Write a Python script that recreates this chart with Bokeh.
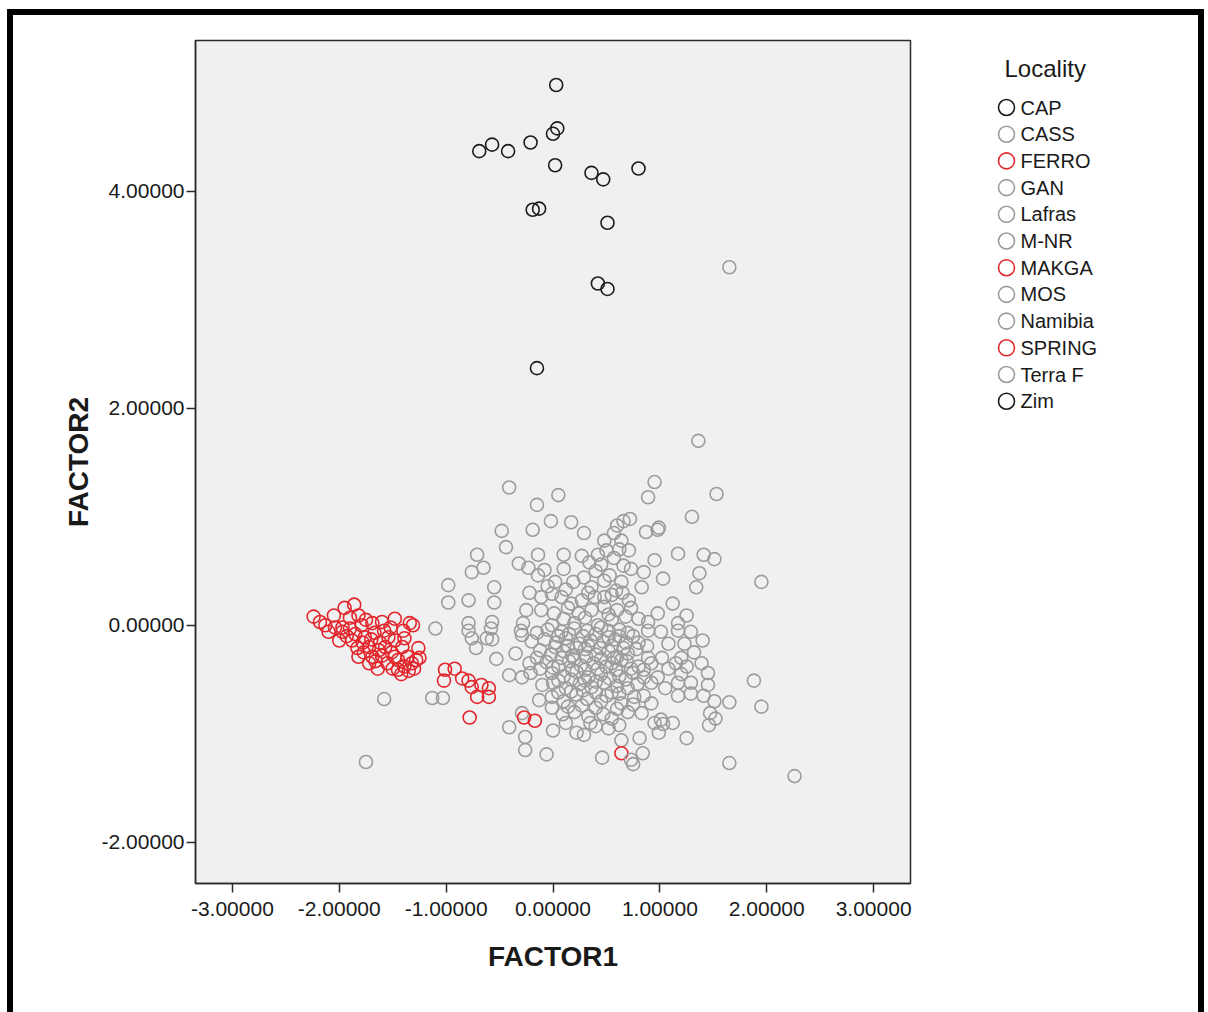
from bokeh.plotting import figure
from bokeh.layouts import row
from bokeh.models import FixedTicker, NumeralTickFormatter, InlineStyleSheet, ColumnDataSource
from bokeh.core.properties import value
from bokeh.embed import file_html
from bokeh.resources import INLINE

# ---------------- data (FACTOR1, FACTOR2) ----------------
localities = ["CAP", "CASS", "FERRO", "GAN", "Lafras", "M-NR", "MAKGA",
              "MOS", "Namibia", "SPRING", "Terra F", "Zim"]

cap_x = [0.03, 0.04, 0.00, -0.57, -0.69, -0.42, -0.21, 0.02]
cap_y = [4.98, 4.58, 4.53, 4.43, 4.37, 4.37, 4.45, 4.24]
zim_x = [0.36, 0.47, 0.80, -0.19, -0.13, 0.51, 0.42, 0.51, -0.15]
zim_y = [4.17, 4.11, 4.21, 3.83, 3.84, 3.71, 3.15, 3.10, 2.37]

ferro_x = [-2.24, -2.18, -2.05, -1.95, -1.86, -1.82, -2.04, -2.10, -1.97, -1.90,
           -1.79, -1.69, -1.60, -1.48, -1.34, -1.31, -2.00, -1.88, -1.76, -1.67,
           -1.54, -1.48, -1.39, -1.83, -1.72, -1.63, -1.82, -1.69, -1.60, -1.51,
           -1.41, -1.26, -1.45, -1.36, -1.28, -1.45, -1.39, -1.32, -1.48, -1.97]
ferro_y = [0.08, 0.03, 0.09, 0.16, 0.19, 0.09, -0.02, -0.06, -0.06, -0.03,
           0.00, 0.02, 0.03, 0.06, 0.02, 0.00, -0.14, -0.14, -0.11, -0.07,
           -0.11, -0.14, -0.12, -0.21, -0.20, -0.23, -0.29, -0.29, -0.28, -0.25,
           -0.20, -0.21, -0.32, -0.29, -0.32, -0.41, -0.38, -0.35, -0.29, -0.02]
makga_x = [-2.13, -1.90, -1.75, -1.93, -1.85, -1.78, -1.70, -1.62, -1.57, -1.77,
           -1.66, -1.55, -1.50, -1.42, -1.35, -1.30, -1.25, -1.58, -1.52, -1.40,
           -1.64, -1.72]
makga_y = [0.00, 0.07, 0.05, -0.10, -0.08, -0.16, -0.13, -0.16, -0.20, -0.25,
           -0.33, -0.35, -0.40, -0.45, -0.42, -0.40, -0.30, -0.05, -0.02, -0.05,
           -0.40, -0.35]
spring_x = [-1.01, -0.92, -1.02, -0.85, -0.79, -0.76, -0.67, -0.60, -0.71, -0.60,
            -0.78, -0.27, -0.17, 0.64]
spring_y = [-0.41, -0.40, -0.51, -0.49, -0.51, -0.57, -0.55, -0.58, -0.66, -0.66,
            -0.85, -0.85, -0.88, -1.18]

cass_x = [1.65, 1.36, 0.95, 0.89, 1.53, 1.30, -0.41, 0.05, -0.15, -0.02, 0.17,
          -0.48, -0.19, 0.29, 0.48, -0.44, -0.71, -0.14, 0.10, 0.27, 0.42, -0.65,
          -0.76, -0.32, -0.23, -0.08, -0.14, -0.98, -0.55, 0.19, 0.29, 0.48, 0.36,
          -0.98, -0.79, -0.55, -0.22, -0.11, -0.01, 0.08, 0.17, 0.27, 0.39]
cass_y = [3.30, 1.70, 1.32, 1.18, 1.21, 1.00, 1.27, 1.20, 1.11, 0.96, 0.95,
          0.87, 0.88, 0.85, 0.78, 0.72, 0.65, 0.65, 0.65, 0.64, 0.65, 0.53,
          0.49, 0.57, 0.53, 0.51, 0.46, 0.37, 0.35, 0.40, 0.44, 0.41, 0.35,
          0.21, 0.23, 0.21, 0.30, 0.26, 0.29, 0.26, 0.20, 0.23, 0.26]
gan_x = [-0.25, -0.11, 0.01, 0.14, 0.24, 0.36, 0.48, -0.79, -0.57, -0.28, -0.01,
         0.20, 0.42, 0.72, 0.99, 0.98, 0.87, 0.57, 0.64, 0.71, 0.50, 1.17, 1.41,
         1.51, 0.57, 0.95, 0.73, 0.85, 0.53, 1.03, 1.37, 1.34, 1.95, 0.64, 0.83,
         0.59, 0.71, 1.12, 0.48, 0.98, 1.25, 0.73, 0.89, 0.55, 1.17]
gan_y = [0.14, 0.14, 0.11, 0.16, 0.11, 0.14, 0.17, 0.02, 0.03, 0.02, 0.00,
         0.02, 0.00, 0.98, 0.90, 0.88, 0.86, 0.85, 0.78, 0.69, 0.69, 0.66, 0.65,
         0.61, 0.62, 0.60, 0.52, 0.49, 0.46, 0.43, 0.48, 0.35, 0.40, 0.40, 0.35,
         0.32, 0.23, 0.20, 0.26, 0.11, 0.09, 0.16, 0.03, 0.05, 0.02]
lafras_x = [0.60, 0.66, 0.62, 0.45, 0.40, 0.66, 0.34, 0.10, 0.02, -0.05, 0.12,
            -0.30, -0.15, -0.05, 0.08, 0.20, 0.32, 0.45, 0.52, 0.62, 0.70, 0.89,
            1.01, 1.17, 1.29, -0.76, -0.62, -0.57, -0.29, -0.20, -0.08, 0.03]
lafras_y = [0.92, 0.96, 0.70, 0.56, 0.50, 0.55, 0.58, 0.52, 0.40, 0.36, 0.33,
            -0.05, -0.07, -0.04, -0.06, -0.03, -0.05, -0.02, -0.05, -0.04, -0.07, -0.05,
            -0.06, -0.05, -0.06, -0.12, -0.12, -0.13, -0.09, -0.15, -0.13, -0.16]
mnr_x = [0.12, 0.25, 0.35, 0.47, 0.58, 0.68, 0.80, 1.08, 1.23, 1.40, -0.72,
         -0.35, -0.12, -0.02, 0.10, 0.18, 0.30, 0.40, 0.52, 0.70, 0.89, 1.20,
         1.32, 0.60, 0.78, -0.53, -0.22, -0.06, 0.05, 0.15, 0.26, 0.38, 0.50]
mnr_y = [-0.12, -0.17, -0.14, -0.15, -0.13, -0.16, -0.16, -0.17, -0.17, -0.14, -0.21,
         -0.26, -0.23, -0.27, -0.24, -0.28, -0.22, -0.27, -0.24, -0.26, -0.30, -0.30,
         -0.25, -0.29, -0.22, -0.31, -0.35, -0.34, -0.38, -0.33, -0.37, -0.35, -0.38]
mos_x = [0.55, 0.73, 0.92, 1.08, 1.39, 0.64, 0.85, -0.41, -0.29, -0.21, -0.01,
         0.10, 0.22, 0.33, 0.45, 0.62, 0.75, 0.98, 1.20, 1.45, 0.85, -0.10,
         0.00, 0.12, 0.25, 0.36, 0.48, 0.60, 0.79, 1.17, 1.29, 1.45, 1.88, 0.70, 1.05]
mos_y = [-0.35, -0.40, -0.35, -0.40, -0.35, -0.32, -0.41, -0.46, -0.48, -0.44, -0.44,
         -0.47, -0.43, -0.48, -0.45, -0.47, -0.44, -0.48, -0.45, -0.44, -0.48, -0.55,
         -0.53, -0.58, -0.54, -0.57, -0.53, -0.56, -0.54, -0.53, -0.53, -0.55, -0.51, -0.58, -0.58]
namibia_x = [-1.03, -1.13, -0.13, -0.01, 0.10, 0.22, 0.32, 0.45, 0.64, 0.92, 1.17,
             1.29, 1.41, 1.51, 1.65, 1.95, 0.76, 0.55, -0.29, -0.01, 0.09, 0.20,
             0.33, 0.47, 0.55, 0.70, 0.83, 1.01, 1.47, 1.52, 1.46, -0.41, -0.26,
             0.00, 0.22, 0.29, 0.35, 0.95, 1.03, 1.12, 0.99, 0.81, 0.64, 1.25]
namibia_y = [-0.67, -0.67, -0.69, -0.66, -0.70, -0.64, -0.68, -0.70, -0.72, -0.72, -0.65,
             -0.63, -0.65, -0.70, -0.71, -0.75, -0.66, -0.62, -0.81, -0.76, -0.82, -0.80,
             -0.84, -0.82, -0.86, -0.80, -0.81, -0.87, -0.81, -0.86, -0.92, -0.94, -1.03,
             -0.97, -0.99, -1.01, -0.90, -0.90, -0.91, -0.90, -0.99, -1.04, -1.06, -1.04]
terraf_x = [-0.26, -0.06, 0.46, 0.73, 0.84, 0.75, 1.65, 2.26, -1.75, -1.58, -1.10,
            -0.79, -0.58, 0.05, 0.15, 0.28, 0.40, 0.52, 0.62, 0.75, 0.02, 0.14,
            0.22, 0.33, 0.44, 0.55, 0.66, 0.88, -0.15, 0.08, 0.20, 0.31, 0.45,
            0.57, 0.69, 1.02, 1.15, -0.12, 0.00, 0.18, 0.30, 0.42, 0.59, 0.80,
            1.25, 0.05, 0.17, 0.30, 0.40, 0.53, 0.68, 0.92, 0.05, 0.17, 0.28,
            0.40, 0.50, 0.62, 0.85, 0.14, 0.27, 0.40, 0.60, 0.75, 0.12, 0.40,
            0.52, 0.62, 0.10, 0.30, 0.52, 0.60, 0.68, 0.80, 0.33, 0.55, 0.65]
terraf_y = [-1.15, -1.19, -1.22, -1.24, -1.18, -1.28, -1.27, -1.39, -1.26, -0.68, -0.03,
            -0.05, -0.03, -0.10, -0.08, -0.10, -0.08, -0.11, -0.10, -0.10, -0.20, -0.19,
            -0.21, -0.19, -0.21, -0.19, -0.21, -0.19, -0.30, -0.30, -0.31, -0.29, -0.31,
            -0.30, -0.33, -0.30, -0.35, -0.40, -0.39, -0.41, -0.41, -0.40, -0.41, -0.38,
            -0.38, -0.51, -0.50, -0.51, -0.52, -0.49, -0.50, -0.53, -0.62, -0.61, -0.60,
            -0.62, -0.65, -0.63, -0.65, -0.75, -0.74, -0.76, -0.77, -0.73, -0.90, -0.93,
            -0.95, -0.92, 0.06, 0.07, 0.10, 0.14, 0.08, 0.06, 0.30, 0.28, 0.30]

data = {
    "CAP": (cap_x, cap_y), "CASS": (cass_x, cass_y), "FERRO": (ferro_x, ferro_y),
    "GAN": (gan_x, gan_y), "Lafras": (lafras_x, lafras_y), "M-NR": (mnr_x, mnr_y),
    "MAKGA": (makga_x, makga_y), "MOS": (mos_x, mos_y), "Namibia": (namibia_x, namibia_y),
    "SPRING": (spring_x, spring_y), "Terra F": (terraf_x, terraf_y), "Zim": (zim_x, zim_y),
}

BLACK = "#1c1c1c"
GRAY = "#9c9c9c"
RED = "#e2262c"
colors = {"CAP": BLACK, "CASS": GRAY, "FERRO": RED, "GAN": GRAY, "Lafras": GRAY,
          "M-NR": GRAY, "MAKGA": RED, "MOS": GRAY, "Namibia": GRAY, "SPRING": RED,
          "Terra F": GRAY, "Zim": BLACK}

FONT = "Liberation Sans"
TOTAL_W, TOTAL_H = 1208, 1012
MAIN_W = 960
TOP, BOTTOM = 40, 129

# ---------------- main scatter plot ----------------
p = figure(width=MAIN_W, height=TOTAL_H, x_range=(-3.345, 3.345), y_range=(-2.38, 5.39),
           output_backend="svg", toolbar_location=None,
           min_border_left=195, min_border_right=50, min_border_top=TOP,
           min_border_bottom=BOTTOM)
p.background_fill_color = "#f0f0f0"
p.border_fill_color = "white"
p.outline_line_color = "#2b2b2b"
p.outline_line_width = 1.5
p.grid.visible = False

for ax in (p.xaxis[0], p.yaxis[0]):
    ax.axis_line_color = "#2b2b2b"
    ax.axis_line_width = 1.5
    ax.major_tick_line_color = "#2b2b2b"
    ax.major_tick_line_width = 1.5
    ax.major_tick_out = 9
    ax.major_tick_in = 0
    ax.minor_tick_line_color = None
    ax.formatter = NumeralTickFormatter(format="0.00000")
    ax.major_label_text_font = FONT
    ax.major_label_text_font_size = "21px"
    ax.major_label_text_color = "#1a1a1a"
    ax.axis_label_text_font = FONT
    ax.axis_label_text_font_style = "bold"
    ax.axis_label_text_font_size = "28px"
    ax.axis_label_text_color = "#1a1a1a"

p.xaxis[0].ticker = FixedTicker(ticks=[-3, -2, -1, 0, 1, 2, 3])
p.yaxis[0].ticker = FixedTicker(ticks=[-2, 0, 2, 4])
p.xaxis[0].axis_label = "FACTOR1"
p.yaxis[0].axis_label = "FACTOR2"
p.xaxis[0].major_label_standoff = 9
p.yaxis[0].major_label_standoff = 2
p.xaxis[0].axis_label_standoff = 22
p.yaxis[0].axis_label_standoff = 5

for loc in localities:
    xs, ys = data[loc]
    p.scatter(xs, ys, marker="circle", size=13, fill_color=None,
              line_color=colors[loc], line_width=1.6)

# ---------------- legend panel (page-like coordinates, y downward) ----------------
lg = figure(width=TOTAL_W - MAIN_W, height=TOTAL_H, x_range=(MAIN_W, TOTAL_W),
            y_range=(TOTAL_H - BOTTOM, TOP), output_backend="svg", toolbar_location=None,
            x_axis_type=None, y_axis_type=None, min_border_left=0, min_border_right=0,
            min_border_top=TOP, min_border_bottom=BOTTOM)
lg.outline_line_color = None
lg.grid.visible = False
lg.background_fill_color = "white"
lg.border_fill_color = "white"

ROW0, PITCH = 107, 26.7
rows = [ROW0 + i * PITCH for i in range(len(localities))]
leg_src = ColumnDataSource(dict(
    mx=[1006] * len(localities), tx=[1020] * len(localities), y=rows,
    label=localities, color=[colors[l] for l in localities]))
lg.scatter("mx", "y", source=leg_src, marker="circle", size=16, fill_color=None,
           line_color="color", line_width=1.6)
lg.text("tx", "y", text="label", source=leg_src, text_font=value(FONT),
        text_font_size=value("20px"), text_baseline="middle", text_align="left",
        text_color="#1a1a1a")
lg.text([1004], [68], text=["Locality"], text_font=value(FONT),
        text_font_size=value("24px"), text_baseline="middle", text_align="left",
        text_color="#1a1a1a")

layout = row(p, lg, spacing=0)
layout.stylesheets = [InlineStyleSheet(css="""
:host { position: relative; }
:host::after {
  content: ""; position: absolute; pointer-events: none; z-index: 1000;
  left: 7px; top: 9px; width: 1197px; height: 1003px; box-sizing: border-box;
  border-top: 6px solid #000; border-left: 6px solid #000; border-right: 6px solid #000;
}
""")]

open("out.html", "w").write(file_html(layout, INLINE))
